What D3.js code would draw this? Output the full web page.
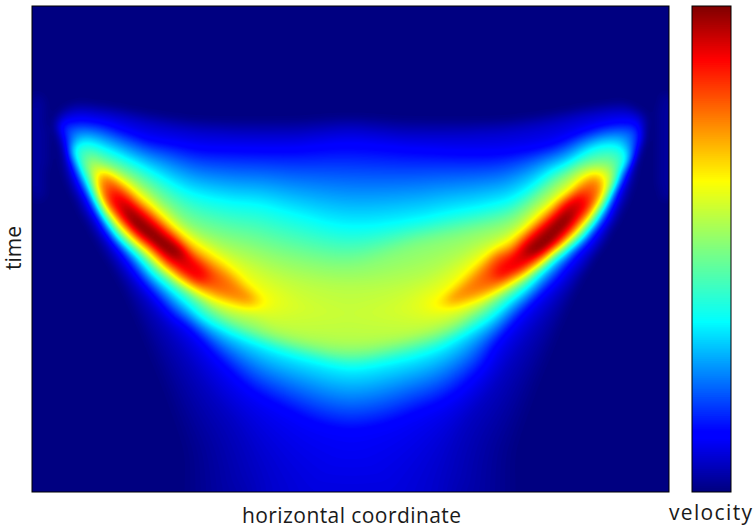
<!DOCTYPE html>
<html><head><meta charset="utf-8">
<script src="https://cdn.jsdelivr.net/npm/d3@7"></script>
<style>html,body{margin:0;padding:0;background:#fff}svg{display:block}text{font-family:"Open Sans",sans-serif;fill:#1a1a1a}</style>
</head><body><div id="c"></div>
<script>
const xLabel="horizontal coordinate", yLabel="time", barLabel="velocity";
const jetAt=[0,0.11,0.125,0.35,0.5,0.64,0.89,1];
const jetStops=["#00007f","#0000ff","#0000ff","#00ffff","#7fff7f","#ffff00","#ff0000","#7f0000"];
const coordDomain=[0,637], timeDomain=[0,486], velocityDomain=[0,1];

// iso-velocity curves: [horizontal coordinate, time]
const iso00=[[23,112],[28,104],[43,96],[78,99],[118,106],[168,112],[258,112],[318,109],[378,112],[468,112],[518,106],[558,99],[593,96],[608,104],[615,112],[608,144],[603,171],[591,204],[570,239],[550,274],[533,314],[518,354],[503,394],[488,444],[478,514],[158,514],[148,444],[133,394],[118,354],[103,314],[86,274],[66,239],[48,204],[33,171],[28,144]];
const stripeL=[[3,89],[10,89],[10,194],[3,194]];
const stripeR=[[630,89],[636,89],[636,194],[630,194]];
const iso06=[[26,114],[33,108],[43,104],[78,107],[118,116],[168,124],[258,127],[318,122],[378,127],[468,124],[518,116],[558,107],[593,104],[605,108],[612,114],[602,144],[598,171],[586,204],[567,239],[543,269],[518,299],[488,339],[458,384],[428,424],[410,484],[413,519],[226,519],[230,484],[208,424],[178,384],[148,339],[118,299],[95,269],[75,239],[53,204],[38,171],[33,144]];
const iso11=[[26,119],[41,114],[68,116],[98,126],[118,133],[138,136],[168,141],[198,142],[258,142],[318,137],[378,142],[451,146],[485,144],[518,138],[551,125],[585,116],[605,117],[611,127],[604,149],[595,167],[585,187],[575,211],[561,231],[541,254],[525,274],[505,294],[488,312],[465,340],[451,364],[418,394],[385,409],[351,422],[318,427],[286,421],[253,406],[215,384],[185,354],[158,324],[138,309],[125,294],[108,274],[92,251],[77,231],[65,211],[55,191],[43,167],[35,141],[30,129]];
const iso35=[[40,144],[45,139],[56,137],[68,141],[98,155],[121,167],[138,177],[158,187],[198,196],[228,199],[258,207],[318,221],[385,214],[418,207],[451,201],[478,194],[498,182],[518,167],[538,157],[558,144],[575,139],[588,141],[595,149],[593,159],[588,167],[580,187],[566,211],[550,231],[531,247],[511,264],[495,281],[475,297],[458,312],[430,329],[401,344],[351,357],[318,361],[281,354],[231,339],[171,312],[155,297],[138,282],[121,267],[108,252],[86,231],[72,211],[61,191],[50,167],[44,154]];
const iso50=[[54,159],[58,152],[71,157],[88,164],[105,174],[121,186],[138,201],[158,217],[188,229],[218,237],[258,249],[318,257],[385,237],[435,226],[478,214],[498,199],[515,184],[531,171],[548,161],[568,157],[580,159],[583,169],[576,187],[562,211],[545,231],[530,244],[508,262],[488,277],[468,291],[445,307],[418,324],[368,339],[318,347],[268,339],[219,324],[188,309],[165,291],[145,277],[128,264],[113,249],[92,231],[76,211],[65,191],[58,167]];
const iso56=[[60,159],[68,162],[88,169],[105,181],[121,194],[138,209],[158,226],[188,242],[219,255],[259,271],[318,281],[388,271],[418,256],[448,239],[478,226],[501,206],[518,192],[535,177],[551,166],[568,162],[577,166],[580,174],[574,187],[560,211],[543,231],[528,244],[506,262],[485,277],[461,291],[435,307],[388,326],[318,334],[248,324],[221,312],[195,306],[171,294],[151,281],[131,266],[115,251],[94,231],[78,211],[66,191],[60,169]];
const iso64L=[[65,167],[71,164],[88,174],[105,187],[121,201],[138,217],[158,233],[183,250],[201,264],[215,278],[231,292],[235,297],[221,302],[195,297],[168,286],[148,274],[128,257],[116,246],[98,231],[80,211],[68,191]];
const iso64R=[[573,184],[571,172],[568,167],[555,169],[538,184],[521,197],[505,211],[488,226],[478,234],[463,244],[442,261],[426,277],[410,291],[400,299],[411,302],[431,299],[458,289],[481,277],[505,261],[524,244],[540,231],[558,211],[572,187]];
const iso75L=[[68,179],[70,172],[75,171],[88,179],[105,196],[121,209],[138,224],[158,244],[175,256],[195,269],[211,284],[220,294],[198,292],[175,284],[155,274],[135,259],[123,247],[104,231],[85,211],[71,191]];
const iso75R=[[568,187],[566,174],[555,176],[538,189],[521,204],[505,219],[488,234],[478,244],[465,247],[448,264],[431,281],[418,294],[431,292],[455,284],[478,272],[498,261],[516,247],[535,231],[553,211]];
const iso89L=[[80,197],[81,187],[88,189],[105,201],[121,216],[138,231],[155,246],[161,253],[171,264],[173,271],[165,274],[160,271],[145,261],[128,247],[111,231],[90,211]];
const iso89R=[[556,197],[550,191],[541,192],[521,211],[505,224],[488,242],[478,252],[471,259],[466,267],[468,271],[488,262],[505,251],[530,231],[546,211]];
const iso97L=[[94,202],[103,209],[115,218],[133,232],[151,246],[146,250],[131,245],[116,234],[96,216]];
const iso97R=[[541,205],[538,215],[526,229],[512,245],[496,248],[494,244],[506,234],[518,222],[530,210]];
const isoValues=[0,0.06,0.11,0.35,0.5,0.56,0.64,0.75,0.89,0.97];
const isoCurves=[[iso00],[iso06],[iso11],[iso35],[iso50],[iso56],[iso64L,iso64R],[iso75L,iso75R],[iso89L,iso89R],[iso97L,iso97R]];
const stripes=[stripeL,stripeR], stripeValue=0.025;

const W=756,H=528, plot={l:32,r:669,t:6,b:492}, bar={l:692,r:731,t:6,b:492};
const jet=d3.scaleLinear().domain(jetAt).range(jetStops).interpolate(d3.interpolateRgb).clamp(true);
const svg=d3.select("#c").append("svg").attr("width",W).attr("height",H);
const defs=svg.append("defs");
defs.append("clipPath").attr("id","pc").append("rect").attr("x",plot.l).attr("y",plot.t).attr("width",plot.r-plot.l).attr("height",plot.b-plot.t);

const line=d3.line().curve(d3.curveCatmullRomClosed.alpha(0.5));
const tmp=defs.append("path");
function sample(pts){
  tmp.attr("d",line(pts));
  const n=tmp.node(), L=n.getTotalLength(), k=Math.ceil(L/4), out=[];
  for(let i=0;i<k;i++){const p=n.getPointAtLength(i*L/k);out.push([p.x,p.y]);}
  const xe=d3.extent(out,d=>d[0]), ye=d3.extent(out,d=>d[1]);
  return {pts:out,x0:xe[0],x1:xe[1],y0:ye[0],y1:ye[1]};
}
const levelsS=isoCurves.map(l=>l.map(sample));
const stripesS=stripes.map(sample);
tmp.remove();
const inside=(c,x,y)=>x>=c.x0&&x<=c.x1&&y>=c.y0&&y<=c.y1&&d3.polygonContains(c.pts,[x,y]);
function dist(curves,x,y){
  let m=Infinity;
  for(const c of curves) for(const p of c.pts){const dx=p[0]-x,dy=p[1]-y,d=dx*dx+dy*dy;if(d<m)m=d;}
  return Math.sqrt(m);
}
function velocityAt(x,y){
  for(let i=levelsS.length-1;i>=0;i--){
    if(levelsS[i].some(c=>inside(c,x,y))){
      const a=dist(levelsS[i],x,y);
      if(i===levelsS.length-1) return isoValues[i]+(1-isoValues[i])*Math.min(1,a/4);
      const b=dist(levelsS[i+1],x,y);
      return isoValues[i]+(isoValues[i+1]-isoValues[i])*a/(a+b);
    }
  }
  return stripesS.some(c=>inside(c,x,y))?stripeValue:0;
}
const step=3, nx=Math.floor(coordDomain[1]/step)+1, ny=Math.floor(timeDomain[1]/step)+1;
const field=new Float64Array(nx*ny);
for(let j=0;j<ny;j++)for(let i=0;i<nx;i++)field[j*nx+i]=velocityAt(i*step,j*step);
d3.blur2({data:field,width:nx,height:ny},1);

const xData=d3.scaleLinear().domain(coordDomain).range([plot.l,plot.r]);
const yData=d3.scaleLinear().domain(timeDomain).range([plot.t,plot.b]);
const path=d3.geoPath(d3.geoTransform({point(x,y){this.stream.point(xData((x-0.5)*step),yData((y-0.5)*step));}}));
const levels=d3.range(0,256).map(i=>i/256);
const contours=d3.contours().size([nx,ny]).thresholds(levels.slice(1)).smooth(true)(Array.from(field));

const g=svg.append("g").attr("clip-path","url(#pc)");
g.append("rect").attr("x",plot.l).attr("y",plot.t).attr("width",plot.r-plot.l).attr("height",plot.b-plot.t).attr("fill",jet(0.5/256));
g.selectAll("path").data(contours).join("path").attr("d",path).attr("fill",d=>jet(d.value+0.5/256));
svg.append("rect").attr("x",plot.l).attr("y",plot.t).attr("width",plot.r-plot.l).attr("height",plot.b-plot.t).attr("fill","none").attr("stroke","#000");

const by=d3.scaleLinear().domain(velocityDomain).range([bar.b,bar.t]);
svg.append("g").selectAll("rect").data(levels).join("rect")
  .attr("x",bar.l).attr("width",bar.r-bar.l)
  .attr("y",bar.t).attr("height",d=>by(d)-bar.t)
  .attr("fill",d=>jet(d+0.5/256));
svg.append("rect").attr("x",bar.l).attr("y",bar.t).attr("width",bar.r-bar.l).attr("height",bar.b-bar.t).attr("fill","none").attr("stroke","#000");

svg.append("text").attr("x",242).attr("y",523).attr("textLength",219).attr("lengthAdjust","spacing").attr("font-size",21).text(xLabel);
svg.append("text").attr("x",669).attr("y",519.5).attr("textLength",83).attr("lengthAdjust","spacing").attr("font-size",21).text(barLabel);
svg.append("text").attr("transform","translate(21,248) rotate(-90)").attr("text-anchor","middle").attr("font-size",21).text(yLabel);
</script></body></html>
